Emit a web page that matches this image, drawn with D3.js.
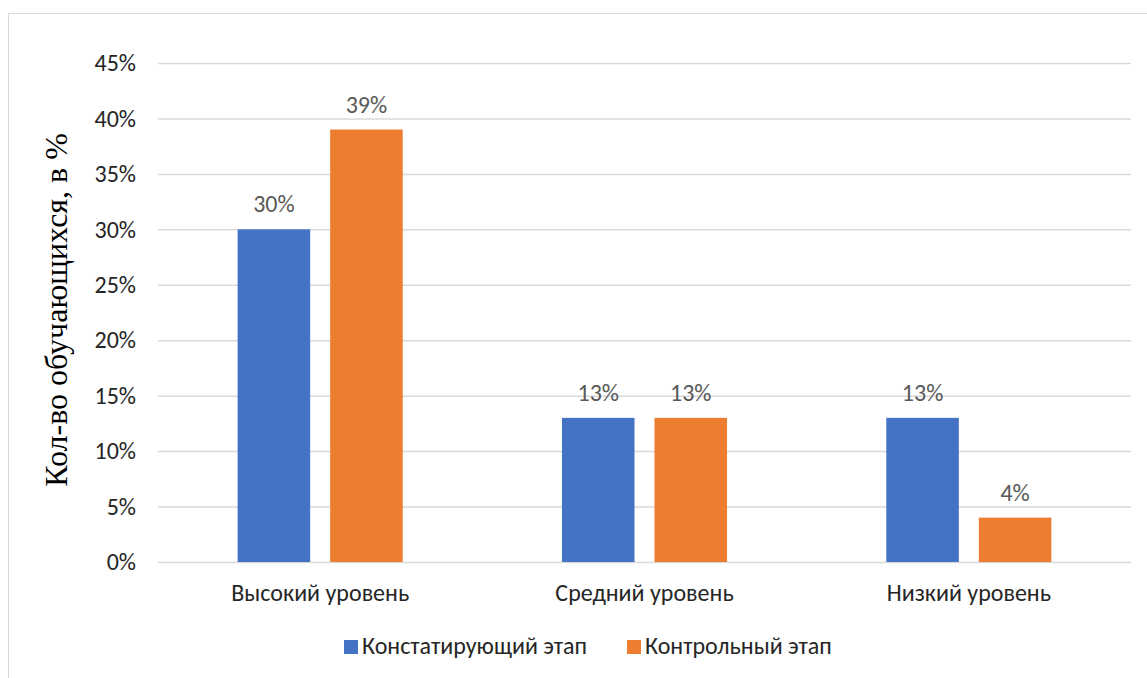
<!DOCTYPE html>
<html>
<head>
<meta charset="utf-8">
<script src="https://cdn.jsdelivr.net/npm/d3@7"></script>
<style>
  body { margin: 0; background: #fff; }
  svg { display: block; }
</style>
</head>
<body>
<svg width="1147" height="678"></svg>
<script>
"use strict";

// data
const categories = ["Высокий уровень", "Средний уровень", "Низкий уровень"];
const seriesNames = ["Констатирующий этап", "Контрольный этап"];
const seriesColors = ["#4472C4", "#ED7D31"];
const stage1 = [0.30, 0.13, 0.13];
const stage2 = [0.39, 0.13, 0.04];
const yTicks = [0, 0.05, 0.10, 0.15, 0.20, 0.25, 0.30, 0.35, 0.40, 0.45];
const yTitle = "Кол-во обучающихся, в %";

window.addEventListener("load", drawChart);

function drawChart() {
  const svg = d3.select("svg");
  const plot = { left: 158, right: 1131, top: 63, bottom: 562 };
  const font = "Calibri, Carlito, 'Open Sans', sans-serif";
  const fontSize = "24px";

  const rows = categories.map((c, i) => ({
    category: c,
    values: [stage1[i], stage2[i]],
  }));

  // chart frame (cut off at right and bottom like the original)
  svg
    .append("rect")
    .attr("x", 8.5)
    .attr("y", 13.5)
    .attr("width", 1160)
    .attr("height", 700)
    .attr("fill", "none")
    .attr("stroke", "#d9d9d9")
    .attr("stroke-width", 1);

  const x0 = d3
    .scaleBand()
    .domain(categories)
    .range([plot.left, plot.right])
    .paddingInner(0.491)
    .paddingOuter(0.2455);

  const x1 = d3
    .scaleBand()
    .domain(d3.range(seriesNames.length))
    .range([0, x0.bandwidth()])
    .paddingInner(0.216);

  const y = d3.scaleLinear().domain([0, 0.45]).range([plot.bottom, plot.top]);

  // gridlines + tick labels via axisLeft
  const yAxis = svg
    .append("g")
    .attr("transform", `translate(${plot.left},0)`)
    .call(
      d3
        .axisLeft(y)
        .tickValues(yTicks)
        .tickSize(-(plot.right - plot.left))
        .tickPadding(22)
        .tickFormat(d3.format(".0%"))
    );
  yAxis.select(".domain").remove();
  yAxis
    .selectAll(".tick line")
    .attr("stroke", "#d9d9d9")
    .attr("stroke-width", 1.5);
  yAxis
    .selectAll(".tick text")
    .attr("fill", "#262626")
    .style("font-family", font)
    .style("font-size", fontSize);

  // bars
  const groups = svg
    .selectAll(".group")
    .data(rows)
    .enter()
    .append("g")
    .attr("class", "group")
    .attr("transform", (d) => `translate(${x0(d.category)},0)`);

  groups
    .selectAll("rect")
    .data((d) => d.values.map((v, i) => ({ v, i })))
    .enter()
    .append("rect")
    .attr("x", (d) => x1(d.i))
    .attr("y", (d) => y(d.v))
    .attr("width", x1.bandwidth())
    .attr("height", (d) => y(0) - y(d.v))
    .attr("fill", (d) => seriesColors[d.i]);

  groups
    .selectAll(".label")
    .data((d) => d.values.map((v, i) => ({ v, i })))
    .enter()
    .append("text")
    .attr("class", "label")
    .attr("x", (d) => x1(d.i) + x1.bandwidth() / 2)
    .attr("y", (d) => y(d.v) - 17)
    .attr("text-anchor", "middle")
    .attr("fill", "#595959")
    .style("font-family", font)
    .style("font-size", fontSize)
    .text((d) => d3.format(".0%")(d.v));

  // category axis labels
  svg
    .append("g")
    .attr("transform", `translate(0,${plot.bottom})`)
    .call(d3.axisBottom(x0).tickSize(0).tickPadding(22))
    .call((g) => g.select(".domain").remove())
    .selectAll("text")
    .attr("fill", "#262626")
    .style("font-family", font)
    .style("font-size", fontSize);

  // y axis title
  svg
    .append("text")
    .attr("transform", "translate(67,310) rotate(-90)")
    .attr("text-anchor", "middle")
    .attr("fill", "#000")
    .style("font-family", "'Liberation Serif', 'Times New Roman', serif")
    .style("font-size", "32px")
    .text(yTitle);

  // legend
  const legendX = [344, 627];
  const legend = svg
    .selectAll(".legend")
    .data(seriesNames)
    .enter()
    .append("g")
    .attr("class", "legend")
    .attr("transform", (d, i) => `translate(${legendX[i]},640)`);

  legend
    .append("rect")
    .attr("width", 14)
    .attr("height", 14)
    .attr("fill", (d, i) => seriesColors[i]);

  legend
    .append("text")
    .attr("x", 18)
    .attr("y", 14)
    .attr("fill", "#262626")
    .style("font-family", font)
    .style("font-size", fontSize)
    .text((d) => d);
}
</script>
</body>
</html>
